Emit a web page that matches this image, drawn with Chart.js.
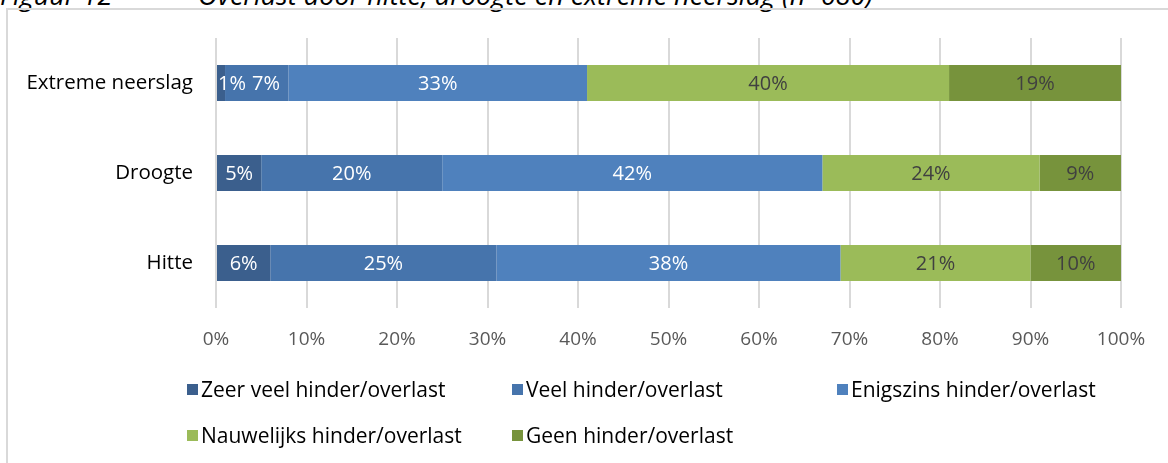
<!DOCTYPE html>
<html>
<head>
<meta charset="utf-8">
<script src="https://cdn.jsdelivr.net/npm/chart.js@4.4.1/dist/chart.umd.min.js"></script>
<style>
  html, body { margin: 0; padding: 0; background: #fff; overflow: hidden; }
  body { width: 1168px; height: 463px; position: relative; font-family: "Open Sans", Lato, sans-serif; }
  .tt { position: absolute; top: -19px; font-size: 27px; line-height: 27px; font-style: italic; color: #000; white-space: pre; }
  #frame { position: absolute; left: 6px; top: 8px; width: 2000px; height: 1000px; border-left: 2px solid #D9D9D9; border-top: 2px solid #D9D9D9; }
  #wrap { position: absolute; left: 0; top: 0; width: 1168px; height: 463px; }
  #legend { position: absolute; left: 187px; top: 376px; width: 980px; display: flex; flex-wrap: wrap; }
  .li { width: 325px; height: 46px; display: flex; align-items: flex-start; font-size: 21px; line-height: 26px; color: #000; }
  .sw { width: 11px; height: 11px; margin-top: 8px; margin-right: 3px; flex: none; }
</style>
</head>
<body>
<div class="tt" style="left:0px">Figuur 12</div>
<div class="tt" style="left:198px">Overlast door hitte, droogte en extreme neerslag (n=680)</div>
<div id="frame"></div>
<div id="wrap"><canvas id="c" width="1168" height="463"></canvas></div>
<div id="legend"></div>
<script>
const categories = ["Extreme neerslag", "Droogte", "Hitte"];
const seriesNames = ["Zeer veel hinder/overlast", "Veel hinder/overlast", "Enigszins hinder/overlast", "Nauwelijks hinder/overlast", "Geen hinder/overlast"];
const zeerVeel   = [1, 5, 6];
const veel       = [7, 20, 25];
const enigszins  = [33, 42, 38];
const nauwelijks = [40, 24, 21];
const geen       = [19, 9, 10];
const xTicks = [0, 10, 20, 30, 40, 50, 60, 70, 80, 90, 100];

const colors = ["#3B5F8D", "#4674AC", "#4F81BD", "#9BBB59", "#77933C"];
const labelColors = ["#FFFFFF", "#FFFFFF", "#FFFFFF", "#404040", "#404040"];
const seriesData = [zeerVeel, veel, enigszins, nauwelijks, geen];

const FONT = '"Open Sans", Lato, sans-serif';

const labelPlugin = {
  id: 'segLabels',
  afterDatasetsDraw(chart) {
    const ctx = chart.ctx;
    ctx.save();
    ctx.font = '20px ' + FONT;
    ctx.textBaseline = 'middle';
    ctx.textAlign = 'left';
    const n = chart.data.labels.length;
    for (let i = 0; i < n; i++) {
      let prevRight = -Infinity;
      chart.data.datasets.forEach((ds, di) => {
        const meta = chart.getDatasetMeta(di);
        const el = meta.data[i];
        if (!el) return;
        const txt = ds.data[i] + '%';
        const w = ctx.measureText(txt).width;
        const cx = (el.x + el.base) / 2;
        let left = cx - w / 2;
        if (left < chart.chartArea.left + 2) left = chart.chartArea.left + 2;
        if (left < prevRight + 6) left = prevRight + 6;
        ctx.fillStyle = labelColors[di];
        ctx.fillText(txt, left, el.y + 1);
        prevRight = left + w;
      });
    }
    ctx.restore();
  }
};

const chart = new Chart(document.getElementById('c'), {
  type: 'bar',
  data: {
    labels: categories,
    datasets: seriesNames.map((name, i) => ({
      label: name,
      data: seriesData[i],
      backgroundColor: colors[i],
      borderWidth: 0,
      barPercentage: 0.4,
      categoryPercentage: 1.0
    }))
  },
  options: {
    indexAxis: 'y',
    responsive: false,
    animation: false,
    layout: { padding: { left: 0, right: 47, top: 38, bottom: 0 } },
    plugins: { legend: { display: false }, tooltip: { enabled: false } },
    scales: {
      x: {
        stacked: true,
        min: 0, max: 100,
        afterFit(scale) { scale.height = 155; },
        afterBuildTicks(scale) { scale.ticks = xTicks.map(v => ({ value: v })); },
        grid: { color: '#D9D9D9', lineWidth: 2, drawTicks: false },
        border: { display: false },
        ticks: {
          padding: 20,
          color: '#595959',
          font: { family: FONT, size: 19 },
          callback: v => v + '%'
        }
      },
      y: {
        stacked: true,
        afterFit(scale) { scale.width = 216; },
        grid: { display: false, drawTicks: false },
        border: { display: false },
        ticks: {
          padding: 23,
          color: '#000',
          font: { family: FONT, size: 20.5 }
        }
      }
    }
  },
  plugins: [labelPlugin]
});

const leg = document.getElementById('legend');
seriesNames.forEach((name, i) => {
  const d = document.createElement('div');
  d.className = 'li';
  const s = document.createElement('span');
  s.className = 'sw';
  s.style.background = colors[i];
  const t = document.createElement('span');
  t.textContent = name;
  d.appendChild(s); d.appendChild(t);
  leg.appendChild(d);
});
</script>
</body>
</html>
